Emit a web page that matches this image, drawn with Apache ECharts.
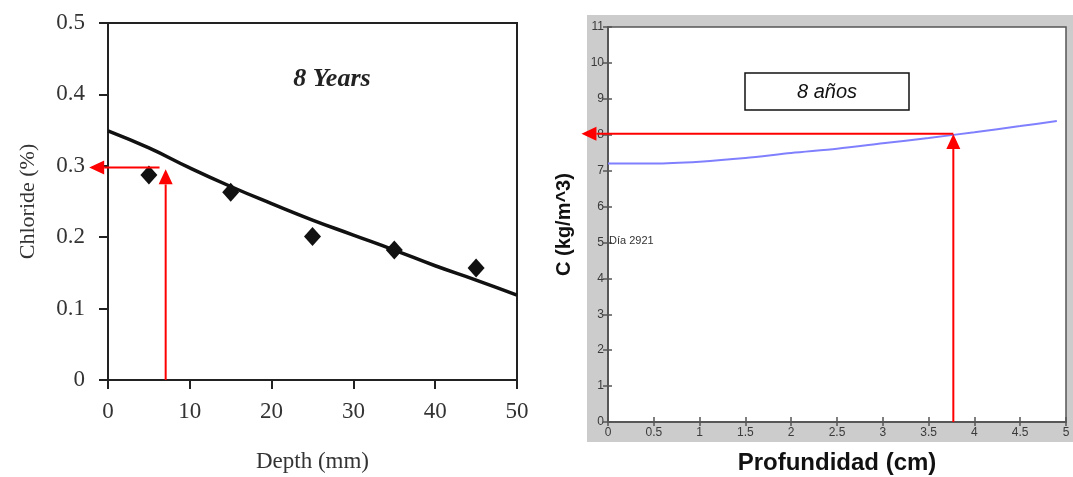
<!DOCTYPE html>
<html>
<head>
<meta charset="utf-8">
<script src="https://cdn.jsdelivr.net/npm/echarts@6/dist/echarts.min.js"></script>
<style>html,body{margin:0;padding:0;background:#fff;}#c{width:1073px;height:477px;}</style>
</head>
<body>
<div id="c"></div>
<script>
// ---- Left chart data (8 Years) ----
const depthPoints = [5, 15, 25, 35, 45];
const chloridePoints = [0.287, 0.263, 0.201, 0.182, 0.157];
const depthCurve = [0, 5, 10, 15, 20, 25, 30, 35, 40, 45, 50];
const chlorideCurve = [0.349, 0.325, 0.297, 0.271, 0.247, 0.224, 0.203, 0.182, 0.160, 0.140, 0.119];
const leftArrows = [[7.05, 0, 7.05, 0.295], [6.3, 0.2975, -2.3, 0.2975]];

// ---- Right chart data (8 años) ----
const profCurve = [0, 0.5, 1, 1.5, 2, 2.5, 3, 3.5, 4, 4.5, 4.9];
const concCurve = [7.2, 7.2, 7.25, 7.35, 7.49, 7.61, 7.76, 7.91, 8.07, 8.24, 8.38];
const rightArrows = [[3.77, 0, 3.77, 8.02], [3.77, 8.03, -0.29, 8.03]];

const serif = '"Liberation Serif", "DejaVu Serif", serif';
const sans = '"Liberation Sans", Arial, sans-serif';

function arrowRender(params, api) {
  const p1 = api.coord([api.value(0), api.value(1)]);
  const p2 = api.coord([api.value(2), api.value(3)]);
  const dx = p2[0] - p1[0], dy = p2[1] - p1[1];
  const len = Math.sqrt(dx * dx + dy * dy);
  const ux = dx / len, uy = dy / len;
  const hl = 15, hw = 7;
  const bx = p2[0] - ux * hl, by = p2[1] - uy * hl;
  return {
    type: 'group',
    children: [
      { type: 'line', shape: { x1: p1[0], y1: p1[1], x2: bx, y2: by }, style: { stroke: '#ff0000', lineWidth: 2 } },
      { type: 'polygon', shape: { points: [[p2[0], p2[1]], [bx - uy * hw, by + ux * hw], [bx + uy * hw, by - ux * hw]] }, style: { fill: '#ff0000' } }
    ]
  };
}

const chart = echarts.init(document.getElementById('c'), null, { renderer: 'canvas' });
const option = {
  animation: false,
  backgroundColor: '#ffffff',
  grid: [
    { left: 108, top: 23, width: 409, height: 357, show: true, borderColor: '#222', borderWidth: 2, backgroundColor: '#fff', outerBoundsMode: 'none', containLabel: false },
    { left: 608, top: 27, width: 458, height: 395, show: true, borderColor: '#555', borderWidth: 1.5, backgroundColor: '#fff', outerBoundsMode: 'none', containLabel: false }
  ],
  xAxis: [
    {
      gridIndex: 0, type: 'value', min: 0, max: 50, interval: 10,
      name: 'Depth (mm)', nameLocation: 'middle', nameGap: 70,
      nameTextStyle: { fontFamily: serif, fontSize: 23, color: '#333' },
      axisLine: { show: true, lineStyle: { color: '#222', width: 2 } },
      axisTick: { show: true, inside: false, length: 9, lineStyle: { color: '#222', width: 2 } },
      axisLabel: { fontFamily: serif, fontSize: 23, color: '#333', margin: 20 },
      splitLine: { show: false }
    },
    {
      gridIndex: 1, type: 'value', min: 0, max: 5, interval: 0.5,
      name: 'Profundidad (cm)', nameLocation: 'middle', nameGap: 29,
      nameTextStyle: { fontFamily: sans, fontSize: 24, fontWeight: 'bold', color: '#111' },
      axisLine: { show: true, lineStyle: { color: '#555', width: 1.5 } },
      axisTick: { show: true, inside: true, length: 5, lineStyle: { color: '#555', width: 1.5 } },
      axisLabel: { fontFamily: sans, fontSize: 12, color: '#3a3a3a', margin: 5 },
      splitLine: { show: false }
    },
    {
      gridIndex: 1, type: 'value', min: 0, max: 5, interval: 0.5, position: 'top',
      axisLine: { show: true, lineStyle: { color: '#555', width: 1.5 } },
      axisTick: { show: true, inside: true, length: 4, lineStyle: { color: '#555', width: 1.5 } },
      axisLabel: { show: false }, splitLine: { show: false }
    }
  ],
  yAxis: [
    {
      gridIndex: 0, type: 'value', min: 0, max: 0.5, interval: 0.1,
      name: 'Chloride (%)', nameLocation: 'middle', nameGap: 69,
      nameTextStyle: { fontFamily: serif, fontSize: 22, color: '#333' },
      axisLine: { show: true, lineStyle: { color: '#222', width: 2 } },
      axisTick: { show: true, inside: false, length: 9, lineStyle: { color: '#222', width: 2 } },
      axisLabel: { fontFamily: serif, fontSize: 23, color: '#333', margin: 23 },
      splitLine: { show: false }
    },
    {
      gridIndex: 1, type: 'value', min: 0, max: 11, interval: 1,
      name: 'C (kg/m^3)', nameLocation: 'middle', nameGap: 34,
      nameTextStyle: { fontFamily: sans, fontSize: 20, fontWeight: 'bold', color: '#111' },
      axisLine: { show: true, lineStyle: { color: '#555', width: 1.5 } },
      axisTick: { show: true, inside: true, length: 4, lineStyle: { color: '#555', width: 1.5 } },
      axisLabel: { fontFamily: sans, fontSize: 12, color: '#3a3a3a', margin: 4 },
      splitLine: { show: false }
    },
    {
      gridIndex: 1, type: 'value', min: 0, max: 11, interval: 1, position: 'right',
      axisLine: { show: true, lineStyle: { color: '#555', width: 1.5 } },
      axisTick: { show: true, inside: true, length: 5, lineStyle: { color: '#555', width: 1.5 } },
      axisLabel: { show: false }, splitLine: { show: false }
    }
  ],
  graphic: [
    { type: 'rect', z: -100, shape: { x: 587, y: 15, width: 486, height: 427 }, style: { fill: '#cccccc' } },
    { type: 'text', z: 100, x: 332, y: 79, style: { text: '8 Years', font: 'italic bold 26px ' + serif, fill: '#222', align: 'center', verticalAlign: 'middle' } },
    { type: 'rect', z: 100, shape: { x: 745, y: 73, width: 164, height: 37 }, style: { fill: '#fff', stroke: '#111', lineWidth: 1.5 } },
    { type: 'text', z: 101, x: 827, y: 92, style: { text: '8 años', font: 'italic 20px ' + sans, fill: '#111', align: 'center', verticalAlign: 'middle' } },
    { type: 'text', z: 100, x: 609, y: 241, style: { text: 'Día 2921', font: '11px ' + sans, fill: '#333', align: 'left', verticalAlign: 'middle' } }
  ],
  series: [
    {
      type: 'line', xAxisIndex: 0, yAxisIndex: 0, smooth: 0.5, showSymbol: false,
      data: depthCurve.map((d, i) => [d, chlorideCurve[i]]),
      lineStyle: { color: '#111', width: 3.5 }, z: 3
    },
    {
      type: 'scatter', xAxisIndex: 0, yAxisIndex: 0, symbol: 'diamond', symbolSize: [17, 19],
      data: depthPoints.map((d, i) => [d, chloridePoints[i]]),
      itemStyle: { color: '#111', opacity: 1 }, z: 4
    },
    {
      type: 'custom', xAxisIndex: 0, yAxisIndex: 0, clip: false, renderItem: arrowRender,
      data: leftArrows, encode: { x: [0, 2], y: [1, 3] }, z: 5
    },
    {
      type: 'line', xAxisIndex: 1, yAxisIndex: 1, smooth: 0.3, showSymbol: false,
      data: profCurve.map((d, i) => [d, concCurve[i]]),
      lineStyle: { color: '#8080ff', width: 2 }, z: 3
    },
    {
      type: 'custom', xAxisIndex: 1, yAxisIndex: 1, clip: false, renderItem: arrowRender,
      data: rightArrows, encode: { x: [0, 2], y: [1, 3] }, z: 5
    }
  ]
};
chart.setOption(option);
</script>
</body>
</html>
